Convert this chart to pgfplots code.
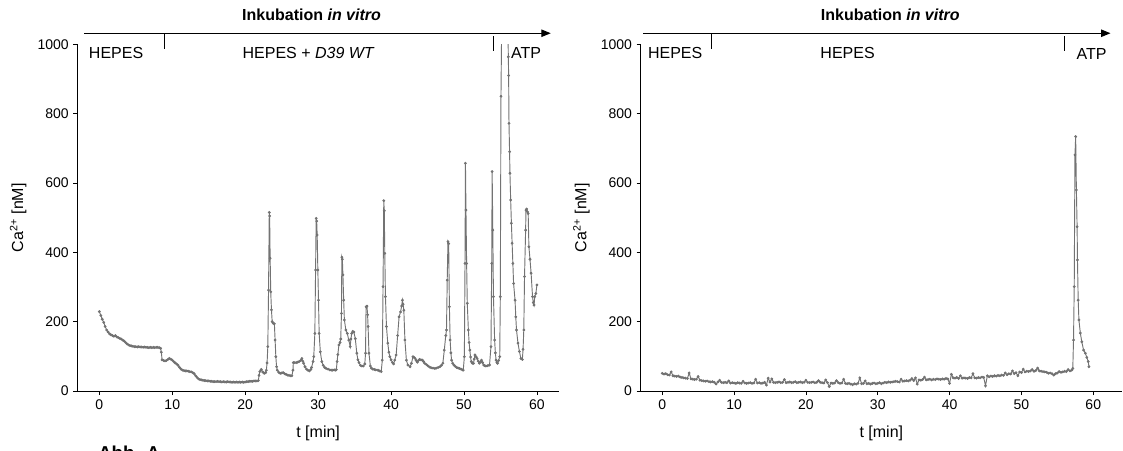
\documentclass[border=0pt]{standalone}
\usepackage{pgfplots}
\usepackage{pgfplotstable}
\pgfplotsset{compat=1.18}
\usetikzlibrary{arrows.meta}
\usepackage{fontspec}
\setmainfont{Liberation Sans}

% Ca2+ traces, t [min] vs. Ca2+ [nM]
\pgfplotstableread{
t v
0.0 229
0.2 218
0.4 207
0.6 198
0.8 186
1.0 176
1.2 170
1.4 165
1.6 162
1.8 160
2.0 158
2.2 160
2.4 156
2.6 154
2.8 152
3.0 150
3.2 147
3.4 144
3.6 140
3.8 136
4.0 133
4.2 131
4.4 130
4.6 129
4.8 128
5.0 128
5.2 127
5.4 128
5.6 127
5.8 127
6.0 126
6.2 127
6.4 126
6.6 126
6.8 125
7.0 126
7.2 125
7.4 126
7.6 125
7.8 126
8.0 126
8.2 125
8.4 123
8.5 112
8.6 90
8.8 88
9.0 87
9.2 88
9.4 91
9.6 94
9.8 92
10.0 89
10.2 85
10.4 81
10.6 78
10.8 74
11.0 68
11.2 63
11.4 60
11.6 59
11.8 58
12.0 58
12.2 57
12.4 56
12.6 55
12.8 53
13.0 50
13.2 44
13.4 39
13.6 35
13.8 33
14.0 32
14.2 31
14.4 30
14.6 30
14.8 29
15.0 29
15.2 28
15.4 28
15.6 27
15.8 27
16.0 27
16.2 28
16.4 27
16.6 27
16.8 26
17.0 27
17.2 26
17.4 26
17.6 27
17.8 26
18.0 26
18.2 25
18.4 26
18.6 25
18.8 26
19.0 25
19.2 26
19.4 25
19.6 26
19.8 25
20.0 26
20.2 27
20.4 27
20.6 28
20.8 28
21.0 28
21.2 29
21.4 29
21.6 29
21.8 30
21.9 45
22.0 56
22.2 62
22.4 55
22.6 51
22.8 53
22.9 60
23.0 81
23.1 128
23.2 291
23.3 515
23.35 505
23.42 383
23.5 286
23.6 234
23.7 200
23.85 195
24.0 194
24.1 147
24.2 99
24.3 70
24.4 60
24.6 54
24.8 51
25.0 52
25.2 53
25.4 50
25.6 48
25.8 46
26.0 45
26.2 44
26.4 44
26.55 60
26.6 82
26.8 82
27.0 82
27.2 83
27.4 85
27.6 88
27.77 94
27.9 86
28.0 80
28.2 70
28.4 63
28.6 60
28.8 58
29.0 62
29.1 68
29.3 85
29.4 99
29.55 166
29.65 349
29.73 498
29.8 490
29.87 450
29.96 349
30.05 262
30.14 166
30.3 113
30.5 85
30.7 74
30.9 68
31.1 65
31.35 63
31.6 61
31.8 60
32.0 60
32.2 61
32.4 60
32.5 62
32.6 85
32.7 105
32.85 133
33.0 140
33.1 150
33.2 224
33.25 386
33.32 380
33.4 335
33.5 262
33.6 205
33.8 176
34.0 166
34.2 147
34.4 128
34.5 150
34.6 166
34.75 172
34.9 170
35.1 151
35.3 109
35.45 90
35.6 82
35.8 74
36.0 72
36.2 72
36.4 78
36.5 109
36.57 243
36.7 245
36.78 220
36.85 186
36.97 109
37.16 72
37.3 66
37.5 63
37.7 62
37.9 61
38.2 60
38.4 58
38.65 56
38.8 89
38.9 301
39.0 549
39.07 520
39.14 397
39.23 272
39.37 186
39.55 138
39.7 112
39.83 99
40.0 90
40.2 82
40.35 78
40.5 89
40.7 104
40.9 160
41.1 214
41.3 228
41.45 245
41.56 262
41.65 250
41.75 233
41.9 147
42.1 89
42.3 75
42.6 70
42.8 80
43.0 99
43.15 97
43.3 94
43.45 88
43.6 83
43.75 88
43.9 91
44.1 90
44.3 89
44.45 85
44.6 80
44.85 76
45.1 72
45.3 69
45.5 67
45.75 66
46.0 65
46.2 66
46.45 68
46.7 70
46.9 74
47.1 80
47.3 118
47.5 160
47.6 176
47.7 320
47.8 431
47.9 425
48.0 243
48.1 147
48.2 110
48.3 89
48.45 80
48.6 75
48.8 71
49.0 68
49.2 66
49.4 65
49.6 63
49.8 61
49.9 60
50.05 99
50.14 368
50.2 657
50.27 522
50.36 368
50.45 253
50.6 176
50.7 140
50.8 118
50.9 98
51.0 85
51.15 80
51.3 80
51.4 92
51.5 104
51.65 99
51.8 94
51.95 86
52.1 80
52.25 84
52.4 89
52.55 82
52.7 75
52.85 73
53.0 72
53.25 73
53.5 75
53.7 128
53.8 368
53.86 633
53.95 464
54.04 272
54.2 147
54.3 110
54.4 89
54.5 83
54.6 80
54.75 88
54.9 99
54.98 272
55.07 850
55.15 1020
55.3 1300
55.6 1500
55.85 1300
56.0 1080
56.08 964
56.12 910
56.17 772
56.25 690
56.3 628
56.4 551
56.5 484
56.6 426
56.7 368
56.8 310
57.0 262
57.1 214
57.2 176
57.4 138
57.6 114
57.8 94
58.0 91
58.1 120
58.2 176
58.3 330
58.45 464
58.5 522
58.6 525
58.7 517
58.8 512
58.9 416
59.05 380
59.2 340
59.4 272
59.5 255
59.6 248
59.7 272
59.85 281
60.0 306
}\dataleft

\pgfplotstableread{
t v
0.00 51
0.25 49
0.50 50
0.75 47
1.00 46
1.25 55
1.50 44
1.75 43
2.00 42
2.25 43
2.50 40
2.75 39
3.00 38
3.25 37
3.50 36
3.75 52
4.00 35
4.25 34
4.50 33
4.75 34
5.00 42
5.25 31
5.50 30
5.75 29
6.00 28
6.25 29
6.50 27
6.75 26
7.00 27
7.25 25
7.50 20
7.75 26
8.00 31
8.25 25
8.50 24
8.75 25
9.00 24
9.25 29
9.50 23
9.75 24
10.00 23
10.25 22
10.50 24
10.75 23
11.00 22
11.25 28
11.50 23
11.75 22
12.00 23
12.25 24
12.50 22
12.75 23
13.00 34
13.25 23
13.50 24
13.75 22
14.00 23
14.25 25
14.50 17
14.75 37
15.00 26
15.25 35
15.50 25
15.75 24
16.00 25
16.25 26
16.50 24
16.75 25
17.00 33
17.25 24
17.50 25
17.75 26
18.00 24
18.25 25
18.50 27
18.75 24
19.00 25
19.25 26
19.50 24
19.75 25
20.00 31
20.25 25
20.50 24
20.75 25
21.00 26
21.25 24
21.50 25
21.75 30
22.00 25
22.25 24
22.50 23
22.75 32
23.00 24
23.25 13
23.50 23
23.75 22
24.00 23
24.25 30
24.50 24
24.75 22
25.00 23
25.25 34
25.50 22
25.75 21
26.00 22
26.25 20
26.50 18
26.75 21
27.00 20
27.25 22
27.50 38
27.75 21
28.00 22
28.25 29
28.50 21
28.75 22
29.00 20
29.25 22
29.50 23
29.75 21
30.00 22
30.25 24
30.50 21
30.75 23
31.00 25
31.25 24
31.50 26
31.75 25
32.00 26
32.25 27
32.50 28
32.75 27
33.00 26
33.25 34
33.50 28
33.75 29
34.00 30
34.25 29
34.50 31
34.75 36
35.00 30
35.25 38
35.50 20
35.75 32
36.00 31
36.25 33
36.50 40
36.75 32
37.00 33
37.25 34
37.50 32
37.75 34
38.00 33
38.25 35
38.50 34
38.75 33
39.00 35
39.25 34
39.50 36
39.75 35
40.00 22
40.25 48
40.50 38
40.75 37
41.00 39
41.25 36
41.50 44
41.75 37
42.00 38
42.25 37
42.50 36
42.75 39
43.00 38
43.25 50
43.50 38
43.75 37
44.00 39
44.25 38
44.50 40
44.75 39
45.00 15
45.25 44
45.50 41
45.75 43
46.00 42
46.25 44
46.50 43
46.75 45
47.00 44
47.25 46
47.50 45
47.75 52
48.00 47
48.25 50
48.50 49
48.75 58
49.00 50
49.25 53
49.50 44
49.75 55
50.00 53
50.25 63
50.50 55
50.75 57
51.00 56
51.25 58
51.50 62
51.75 57
52.00 59
52.25 66
52.50 58
52.75 57
53.00 56
53.25 55
53.50 54
53.75 51
54.00 52
54.25 50
54.50 46
54.75 50
55.00 52
55.25 56
55.50 54
55.75 55
56.00 57
56.25 56
56.50 62
56.75 58
57.00 60
57.15 65
57.25 147
57.35 301
57.45 681
57.55 734
57.65 580
57.75 474
57.80 378
57.90 262
58.00 205
58.20 167
58.40 142
58.65 118
58.90 109
59.10 97
59.30 85
59.40 70
}\dataright

\pgfplotsset{
  capanel/.style={
    scale only axis, width=361pt, height=260pt,
    xmin=-3, ymin=0, ymax=1000,
    axis x line=bottom, axis y line=left,
    axis line style={-, line width=0.6pt},
    tick align=outside, major tick length=3pt,
    tick style={line width=0.6pt, black},
    xtick={0,10,...,60}, ytick={0,200,...,1000},
    minor tick num=0,
    tick label style={font=\fontsize{10.5}{12}\selectfont},
    /pgf/number format/assume math mode=true,
    /pgf/number format/1000 sep={},
    label style={font=\fontsize{12}{14}\selectfont},
    xlabel={t [min]},
    ylabel={Ca\textsuperscript{2+} [nM]},
    xlabel style={at={(axis description cs:0.5,-0.121)}, anchor=center},
    ylabel style={at={(axis description cs:-0.123,0.5)}, anchor=center},
    clip mode=individual,
  },
  trace/.style={draw=black!55, line width=0.7pt, mark=*, mark size=0.65pt,
    mark options={draw=none, fill=black}},
}
\tikzset{lab/.style={font=\fontsize{12}{14}\selectfont, inner sep=0pt}}

\begin{document}
\begin{tikzpicture}
\useasboundingbox (0,0) rectangle (842.25pt,337.5pt);
\clip (0,0) rectangle (842.25pt,337.5pt);

\begin{axis}[capanel, xmax=63, at={(58.1pt,44.25pt)}, anchor=south west]
  \addplot[trace] table {\dataleft};
  \draw[line width=0.8pt, -{Triangle[length=7pt,width=5.5pt]}] (-2.1,1032) -- (61.9,1032);
  \draw[line width=0.6pt] (8.9,1032) -- (8.9,986);
  \draw[line width=0.6pt] (54.0,1024) -- (54.0,980);
  \node[lab] at (29.1,1084) {\bfseries Inkubation \textit{in vitro}};
  \node[lab] at (2.3,976) {HEPES};
  \node[lab] at (28.7,976) {HEPES + \textit{D39 WT}};
  \node[lab] at (58.5,976) {ATP};
\end{axis}

\begin{axis}[capanel, xmax=64, at={(480.5pt,44.25pt)}, anchor=south west]
  \addplot[trace] table {\dataright};
  \draw[line width=0.8pt, -{Triangle[length=7pt,width=5.5pt]}] (-2.65,1032) -- (62.4,1032);
  \draw[line width=0.6pt] (6.8,1032) -- (6.8,986);
  \draw[line width=0.6pt] (56.0,1024) -- (56.0,980);
  \node[lab] at (31.75,1084) {\bfseries Inkubation \textit{in vitro}};
  \node[lab] at (1.8,976) {HEPES};
  \node[lab] at (25.8,976) {HEPES};
  \node[lab] at (59.75,973) {ATP};
\end{axis}

\node[anchor=north west, inner sep=0pt, font=\bfseries\fontsize{14}{16}\selectfont] at (73.5pt,3.5pt) {Abb. A};
\end{tikzpicture}
\end{document}
